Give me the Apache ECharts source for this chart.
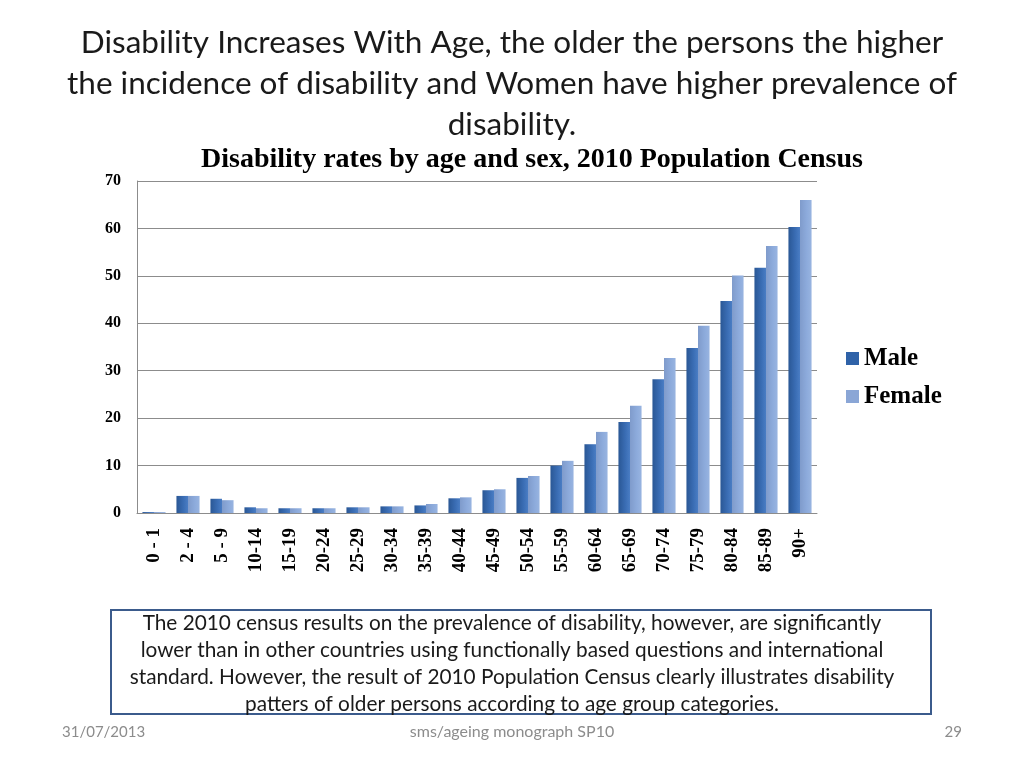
<!DOCTYPE html>
<html>
<head>
<meta charset="utf-8">
<script src="https://cdn.jsdelivr.net/npm/echarts@6/dist/echarts.min.js"></script>
<style>html,body{margin:0;padding:0;background:#fff;}#c{width:1024px;height:768px;}</style>
</head>
<body>
<div id="c"></div>
<script>
var categories = ['0 - 1','2 - 4','5 - 9','10-14','15-19','20-24','25-29','30-34','35-39','40-44','45-49','50-54','55-59','60-64','65-69','70-74','75-79','80-84','85-89','90+'];
var maleValues = [0.2,3.6,3.0,1.2,1.0,1.0,1.2,1.4,1.6,3.1,4.8,7.4,10.0,14.5,19.2,28.2,34.8,44.7,51.7,60.3];
var femaleValues = [0.2,3.6,2.7,1.0,1.0,1.0,1.2,1.4,1.9,3.3,5.0,7.8,11.0,17.1,22.6,32.7,39.5,50.1,56.3,66.0];
var yTicks = [0,10,20,30,40,50,60,70];

var slideTitle = ['Disability Increases With Age, the older the persons the higher','the incidence of disability and Women have higher prevalence of','disability.'];
var chartTitle = 'Disability rates by age and sex, 2010 Population Census';
var noteLines = ['The 2010 census results on the prevalence of disability, however, are significantly','lower than in other countries using functionally based questions and international','standard. However, the result of 2010 Population Census clearly illustrates disability','patters of older persons according to age group categories.'];

var chart = echarts.init(document.getElementById('c'));
var titleFont = 'Lato, "Open Sans", sans-serif';
var serif = '"Liberation Serif", "DejaVu Serif", serif';

var maleColor = new echarts.graphic.LinearGradient(0,0,1,0,[{offset:0,color:'#2a5795'},{offset:0.6,color:'#3a6db4'},{offset:1,color:'#4a7dc4'}]);
var femaleColor = new echarts.graphic.LinearGradient(0,0,1,0,[{offset:0,color:'#7f9bcb'},{offset:0.6,color:'#8dabdc'},{offset:1,color:'#98b4e0'}]);

var graphics = [];
slideTitle.forEach(function(t,i){
  graphics.push({type:'text',left:'center',top:27+i*41,style:{text:t,font:'31.5px '+titleFont,fill:'#1a1a1a'}});
});
graphics.push({type:'text',left:201,top:146,style:{text:chartTitle,font:'bold 28px '+serif,fill:'#000'}});
graphics.push({type:'rect',shape:{x:111,y:610,width:820,height:104},style:{fill:'#fff',stroke:'#3b5b8c',lineWidth:2}});
noteLines.forEach(function(t,i){
  graphics.push({type:'text',left:'center',top:613+i*27,style:{text:t,font:'20.8px '+titleFont,fill:'#1a1a1a'}});
});
graphics.push({type:'text',left:62,top:725,style:{text:'31/07/2013',font:'15px '+titleFont,fill:'#8c8c8c'}});
graphics.push({type:'text',left:'center',top:724,style:{text:'sms/ageing monograph SP10',font:'16px '+titleFont,fill:'#8c8c8c'}});
graphics.push({type:'text',right:62,top:725,style:{text:'29',font:'15px '+titleFont,fill:'#8c8c8c'}});

chart.setOption({
  animation:false,
  graphic:graphics,
  legend:{
    orient:'vertical',left:841,top:341,itemWidth:13,itemHeight:13,itemGap:13,
    icon:'rect',
    textStyle:{fontFamily:serif,fontWeight:'bold',fontSize:25,color:'#000'},
    data:[{name:'Male',itemStyle:{color:'#2f62a8'}},{name:'Female',itemStyle:{color:'#8aa6d6'}}]
  },
  grid:{left:137,top:181,width:680,height:332,containLabel:false},
  xAxis:{
    type:'category',data:categories,
    axisLine:{lineStyle:{color:'#8c8c8c'}},
    axisTick:{show:false},
    axisLabel:{rotate:90,interval:0,margin:15,fontFamily:serif,fontWeight:'bold',fontSize:19,color:'#000'}
  },
  yAxis:{
    type:'value',min:0,max:70,interval:10,
    axisLine:{show:true,lineStyle:{color:'#8c8c8c'}},
    axisTick:{show:false},
    splitLine:{lineStyle:{color:'#8c8c8c'}},
    axisLabel:{margin:16,fontFamily:serif,fontWeight:'bold',fontSize:16,color:'#000',
      formatter:function(v){return yTicks.indexOf(v)>=0?String(v):'';}}
  },
  series:[
    {name:'Male',type:'bar',data:maleValues,barGap:'0%',barCategoryGap:'32%',itemStyle:{color:maleColor}},
    {name:'Female',type:'bar',data:femaleValues,itemStyle:{color:femaleColor}}
  ]
});
</script>
</body>
</html>
